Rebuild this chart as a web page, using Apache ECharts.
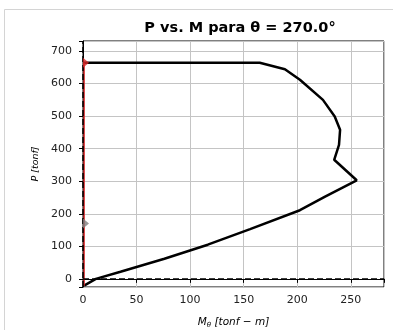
<!DOCTYPE html>
<html>
<head>
<meta charset="utf-8">
<script src="https://cdn.jsdelivr.net/npm/echarts@6/dist/echarts.min.js"></script>
<style>
  html,body{margin:0;padding:0;background:#fff}
  #chart{width:393px;height:330px}
</style>
</head>
<body>
<div id="chart"></div>
<script>
// curva de interacción P-M (M en tonf-m, P en tonf)
const curveM = [0, 165, 188.5, 202.5, 224, 235, 240, 239, 234.5, 255.5, 226, 202.5, 156, 116.5, 76, 35, 12, 1]
const curveP = [664, 664, 644, 612, 550, 499, 458, 412, 366, 303, 253, 211, 153, 105, 62, 22, 0, -21]

// línea roja de demanda
const demandM = [1, 1]
const demandP = [-21, 664]

// puntos marcados
const redMark = [0, 664]
const grayMark = [0, 170]

const xTicks = [0, 50, 100, 150, 200, 250]
const yTicks = [0, 100, 200, 300, 400, 500, 600, 700]

const pairs = (a, b) => a.map((v, i) => [v, b[i]])

const chart = echarts.init(document.getElementById('chart'))
const font = 'DejaVu Sans'
const tri = 'path://M0,0 L6,5 L0,10 Z'

chart.setOption({
  animation: false,
  backgroundColor: '#fff',
  graphic: [{
    type: 'rect',
    shape: {x: 4.5, y: 9.5, width: 400, height: 340},
    style: {fill: null, stroke: '#d4d4d4', lineWidth: 1},
    silent: true
  }],
  title: {
    text: 'P vs. M para θ = 270.0°',
    left: 235, textAlign: 'center', top: 16,
    textStyle: {fontFamily: font, fontWeight: 'bold', fontSize: 14.5, color: '#000'}
  },
  grid: {left: 83, right: 9, top: 41, bottom: 43, containLabel: false, outerBoundsMode: 'none',
    show: true, borderColor: '#000', borderWidth: 1},
  xAxis: {
    type: 'value', min: 0, max: 281, interval: 50,
    name: 'M{s|θ} [tonf − m]', nameLocation: 'middle', nameGap: 29,
    nameTextStyle: {fontFamily: font, fontStyle: 'italic', fontSize: 10.5, color: '#000',
      rich: {s: {fontFamily: font, fontStyle: 'italic', fontSize: 7, verticalAlign: 'bottom', padding: [6, 0, 0, 0]}}},
    axisLine: {show: true, lineStyle: {color: '#000', width: 1}},
    axisTick: {show: true, length: 4, lineStyle: {color: '#000'}},
    axisLabel: {fontFamily: font, fontSize: 11, color: '#222', margin: 8,
      formatter: v => xTicks.includes(v) ? String(v) : ''},
    splitLine: {show: true, lineStyle: {color: '#c4c4c4', width: 1}}
  },
  yAxis: {
    type: 'value', min: -25, max: 731, splitNumber: 7,
    name: 'P [tonf]', nameLocation: 'middle', nameGap: 37, nameRotate: 90,
    nameTextStyle: {fontFamily: font, fontStyle: 'italic', fontSize: 9.5, color: '#000'},
    axisLine: {show: true, lineStyle: {color: '#000', width: 1}},
    axisTick: {show: true, length: 4, lineStyle: {color: '#000'}},
    axisLabel: {fontFamily: font, fontSize: 11, color: '#222', margin: 11,
      formatter: v => yTicks.includes(v) ? String(v) : ''},
    splitLine: {show: true, lineStyle: {color: '#c4c4c4', width: 1}}
  },
  series: [
    {
      type: 'line', data: pairs(curveM, curveP), showSymbol: false,
      lineStyle: {color: '#000', width: 2.5}, z: 3,
      markLine: {
        silent: true, symbol: 'none', label: {show: false},
        lineStyle: {color: '#000', width: 1.5, type: [6, 3]},
        data: [{yAxis: 0}, {xAxis: 0}]
      }
    },
    {
      type: 'line', data: pairs(demandM, demandP), showSymbol: false,
      lineStyle: {color: '#d62728', width: 1.5}, z: 4
    },
    {
      type: 'scatter', data: [redMark], symbol: tri, symbolSize: [6, 10], symbolOffset: [3, 0],
      itemStyle: {color: '#d62728'}, z: 5
    },
    {
      type: 'scatter', data: [grayMark], symbol: tri, symbolSize: [6, 10], symbolOffset: [3, 0],
      itemStyle: {color: '#7f7f7f'}, z: 5
    }
  ]
})
</script>
</body>
</html>
